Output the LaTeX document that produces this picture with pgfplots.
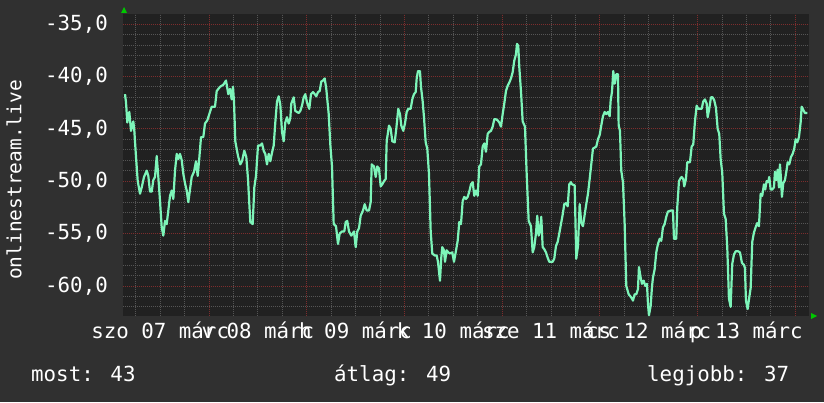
\documentclass[border=0pt]{standalone}
\usepackage{pgfplots}
\pgfplotsset{compat=1.18}
\usepackage{pgfplotstable}
\usepackage{fontspec}
\setmainfont{DejaVu Sans Mono}

\definecolor{bgout}{RGB}{48,48,48}
\definecolor{bgplot}{RGB}{33,33,33}
\definecolor{majgrid}{RGB}{125,45,45}
\definecolor{mingrid}{RGB}{85,85,85}
\definecolor{series}{RGB}{125,245,185}
\definecolor{arrowgreen}{RGB}{0,200,0}

% px = horizontal pixel position in the original chart, v = value
\pgfplotstableread{
px v
125.0 -41.7
126.0 -42.5
127.3 -44.4
129.3 -43.4
131.0 -45.2
133.3 -44.3
134.3 -45.2
136.0 -47.7
137.7 -50.0
140.0 -51.2
141.7 -50.6
144.0 -49.6
146.7 -49.0
148.3 -49.5
150.0 -51.0
151.7 -51.0
153.3 -49.9
155.0 -49.6
156.7 -47.6
158.3 -49.6
160.0 -51.9
161.7 -54.4
163.3 -55.2
165.0 -53.8
166.7 -54.1
168.3 -52.8
170.0 -51.4
171.7 -50.9
173.3 -51.7
175.0 -49.0
176.7 -47.4
178.3 -47.9
180.0 -47.4
181.7 -48.0
183.3 -49.3
185.0 -50.2
186.7 -50.9
188.3 -52.0
190.0 -50.8
191.7 -49.6
194.0 -49.1
196.0 -48.1
197.7 -49.5
199.3 -47.8
201.0 -45.8
203.3 -45.8
205.0 -44.5
207.3 -44.2
209.3 -43.6
211.7 -42.9
215.0 -42.9
216.7 -41.4
220.0 -41.0
223.3 -40.8
226.0 -40.4
228.3 -41.7
230.0 -41.2
231.7 -42.2
233.0 -41.0
234.0 -42.4
235.3 -46.2
238.0 -47.6
240.3 -48.4
242.0 -48.1
244.3 -47.1
246.3 -47.7
248.0 -49.8
250.3 -53.9
252.7 -54.1
254.3 -50.6
256.0 -49.5
258.0 -46.6
260.3 -46.6
262.0 -46.4
263.7 -47.1
265.3 -47.4
267.0 -48.4
268.7 -47.4
270.3 -48.1
272.0 -47.3
273.7 -46.6
275.3 -44.4
277.0 -42.4
278.7 -41.9
280.3 -42.7
282.0 -45.3
283.7 -46.2
285.3 -44.4
287.0 -43.9
288.7 -44.5
290.3 -44.0
291.3 -42.6
293.7 -42.0
295.3 -43.3
297.0 -43.4
298.7 -43.5
300.3 -43.3
302.0 -42.8
303.7 -42.0
305.3 -41.7
307.0 -42.5
309.3 -43.1
311.0 -41.7
313.0 -41.5
314.7 -41.7
316.3 -41.9
318.0 -41.5
319.7 -41.4
321.3 -40.5
323.0 -40.4
324.7 -40.2
326.3 -41.2
328.7 -43.6
330.3 -46.5
332.0 -48.6
333.7 -54.1
336.0 -54.3
338.0 -56.0
339.7 -55.0
342.0 -54.8
344.3 -54.8
345.7 -53.9
347.3 -53.8
349.0 -54.8
351.3 -55.2
354.0 -54.8
355.7 -56.3
357.3 -54.8
359.0 -54.5
360.7 -53.3
363.0 -52.8
364.7 -52.2
366.7 -52.8
369.0 -52.8
370.7 -52.0
371.7 -48.4
374.0 -48.6
375.7 -49.6
377.3 -48.6
379.0 -48.8
380.7 -50.5
382.3 -50.3
384.0 -50.0
385.7 -49.8
386.7 -46.2
389.0 -44.7
390.7 -45.0
392.3 -46.2
394.7 -46.3
396.3 -45.0
398.3 -43.1
400.0 -43.6
401.3 -44.7
403.3 -45.2
405.0 -44.5
406.7 -43.4
408.3 -43.1
410.7 -43.1
412.3 -42.2
414.0 -41.7
415.7 -41.5
416.7 -40.2
418.0 -39.5
420.0 -39.5
421.0 -41.0
422.7 -42.4
424.0 -43.9
425.7 -46.3
427.3 -46.9
429.0 -49.3
430.7 -54.8
432.3 -56.9
434.7 -57.1
436.7 -57.1
438.0 -57.7
440.0 -59.5
441.3 -57.3
442.3 -56.3
444.0 -56.6
445.0 -57.7
446.7 -56.6
448.3 -56.8
450.0 -56.9
452.3 -56.8
454.0 -57.7
455.7 -56.8
457.7 -55.7
459.3 -53.9
461.0 -54.1
462.7 -51.9
464.3 -51.5
466.0 -51.7
467.7 -51.5
469.3 -51.0
471.0 -50.3
472.7 -50.1
474.3 -51.4
476.0 -50.9
477.7 -51.4
479.3 -48.6
481.0 -48.4
482.7 -46.7
484.3 -46.4
486.0 -47.2
487.7 -45.5
489.3 -45.3
491.0 -45.2
492.7 -44.8
494.3 -44.1
496.0 -44.1
497.7 -44.2
499.3 -44.4
501.0 -44.8
502.7 -43.6
504.3 -42.6
506.0 -41.4
507.7 -40.9
509.3 -40.6
511.0 -40.2
512.7 -39.6
514.3 -38.5
516.0 -37.9
517.0 -36.9
518.3 -37.1
519.3 -39.1
521.0 -41.4
522.7 -44.3
525.0 -44.8
526.7 -49.3
528.7 -53.8
531.0 -54.3
532.7 -56.8
534.3 -56.3
536.0 -55.0
537.3 -53.3
538.7 -55.2
540.0 -54.7
541.3 -53.4
542.7 -56.3
544.3 -56.5
546.0 -56.8
547.7 -57.3
549.3 -57.7
552.7 -57.7
554.3 -57.4
556.0 -56.2
557.7 -55.8
559.3 -55.0
561.0 -54.1
562.7 -53.2
564.3 -52.2
566.0 -52.1
567.7 -52.4
569.3 -50.3
571.0 -50.1
572.0 -50.3
574.7 -50.4
576.3 -57.4
578.0 -56.2
579.7 -52.2
581.3 -54.0
583.0 -54.3
584.7 -53.2
586.3 -52.2
588.0 -51.2
589.7 -49.8
591.3 -48.4
593.0 -46.9
596.3 -46.7
598.0 -46.0
599.7 -45.6
601.3 -44.7
603.0 -43.8
604.7 -43.4
606.3 -43.6
608.0 -43.4
609.7 -43.8
610.7 -42.3
612.0 -41.5
613.3 -39.5
614.7 -40.7
616.3 -39.8
618.0 -39.8
618.7 -44.7
620.0 -45.2
621.3 -49.0
623.0 -50.1
624.7 -54.1
626.3 -60.0
628.7 -60.8
631.3 -61.1
633.0 -61.4
634.7 -60.8
636.3 -60.8
638.0 -60.3
639.0 -58.2
640.7 -59.2
642.0 -59.8
643.7 -59.5
645.3 -60.0
647.0 -59.8
648.0 -61.7
649.0 -62.8
650.7 -61.9
652.0 -60.1
653.0 -59.2
654.7 -58.4
656.3 -56.8
658.0 -56.0
659.7 -55.5
661.3 -55.7
663.0 -54.4
664.7 -54.1
666.3 -53.4
668.0 -52.9
671.3 -52.8
673.0 -52.8
674.0 -55.5
676.3 -55.5
677.3 -52.5
679.0 -50.0
680.7 -49.7
681.7 -49.6
683.3 -49.8
684.3 -50.5
686.0 -49.8
687.3 -48.2
690.0 -48.2
691.7 -46.7
693.3 -46.5
695.0 -44.3
696.7 -42.8
698.3 -43.1
701.7 -43.1
703.3 -42.4
705.0 -42.2
706.7 -42.6
707.7 -43.9
709.3 -43.1
711.0 -42.0
712.7 -42.0
714.3 -42.3
716.0 -43.0
717.7 -45.0
719.3 -45.5
720.7 -47.9
722.3 -49.2
724.0 -53.1
725.7 -53.6
727.3 -56.3
729.0 -61.2
730.7 -62.0
732.3 -57.9
734.0 -57.0
735.7 -56.7
738.3 -56.7
740.0 -56.8
742.0 -57.8
744.0 -58.0
745.0 -58.3
746.0 -61.4
747.7 -62.2
749.3 -61.1
750.7 -60.2
752.3 -55.8
754.0 -54.9
755.7 -54.4
757.3 -54.0
759.0 -54.3
760.7 -51.2
762.3 -51.4
764.0 -50.3
765.3 -50.8
766.7 -50.0
768.3 -50.1
769.3 -49.6
770.7 -50.8
772.3 -50.8
774.0 -50.6
775.0 -49.1
776.3 -49.9
777.7 -48.9
779.0 -50.6
780.0 -48.4
781.0 -49.7
782.0 -51.5
783.3 -50.2
785.0 -49.9
786.7 -48.9
787.7 -48.2
789.3 -48.4
791.0 -47.7
792.7 -47.4
794.3 -46.9
795.7 -46.0
797.3 -46.3
799.0 -45.8
800.7 -44.4
801.7 -42.9
803.3 -43.2
805.0 -43.5
807.3 -43.5
}\datatable

\begin{document}
\begin{tikzpicture}[x=1bp,y=1bp]
\fill[bgout] (0,0) rectangle (824,402);
\path[use as bounding box] (0,0) rectangle (824,402);
\begin{axis}[
  at={(123bp,86bp)}, anchor=south west,
  scale only axis, width=686bp, height=302bp,
  xmin=2.87, xmax=171.4, ymin=-62.87, ymax=-34.05,
  axis background/.style={fill=bgplot},
  axis line style={draw=none},
  xtick={24,48,72,96,120,144,168}, xticklabels={},
  minor xtick={6,12,18,30,36,42,54,60,66,78,84,90,102,108,114,126,132,138,150,156,162},
  ytick={-60,-55,-50,-45,-40,-35},
  yticklabels={{-60,0},{-55,0},{-50,0},{-45,0},{-40,0},{-35,0}},
  minor ytick={-62,-61,-59,-58,-57,-56,-54,-53,-52,-51,-49,-48,-47,-46,-44,-43,-42,-41,-39,-38,-37,-36},
  grid=both,
  major grid style={majgrid, dash pattern=on 1bp off 1bp, line width=0.8bp},
  minor grid style={mingrid, dash pattern=on 1bp off 1bp, line width=0.8bp},
  extra x ticks={12,36,60,84,108,132,156},
  extra x tick labels={szo 07 márc, v 08 márc, h 09 márc, k 10 márc, sze 11 márc, cs 12 márc, p 13 márc},
  extra x tick style={grid=none},
  tick style={draw=none},
  xticklabel style={anchor=base, yshift=-22bp, inner sep=0pt},
  yticklabel style={anchor=east, inner sep=0pt, xshift=-15bp},
  tick label style={font=\fontsize{20.8bp}{25bp}\selectfont, text=white},
]
\addplot[series, line width=2.2bp, line join=round, x filter/.expression={(x-111.3)/4.071}] table[x=px,y=v] {\datatable};
\end{axis}
\fill[arrowgreen] (121,389) -- (127,389) -- (124,395) -- cycle;
\fill[arrowgreen] (811,89) -- (811,83) -- (817,86) -- cycle;
\node[rotate=90, text=white, font=\fontsize{19.5bp}{23bp}\selectfont] at (14,222) {onlinestream.live};
\node[anchor=base west, inner sep=0pt, text=white, font=\fontsize{20.8bp}{25bp}\selectfont] at (31,21) {most: 43};
\node[anchor=base west, inner sep=0pt, text=white, font=\fontsize{20.8bp}{25bp}\selectfont] at (334,21) {átlag: 49};
\node[anchor=base west, inner sep=0pt, text=white, font=\fontsize{20.8bp}{25bp}\selectfont] at (647,21) {legjobb: 37};
\end{tikzpicture}
\end{document}
